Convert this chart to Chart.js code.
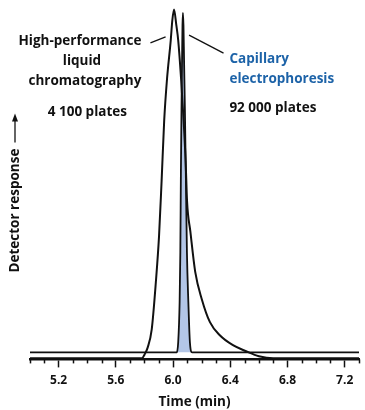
<!DOCTYPE html>
<html>
<head>
<meta charset="utf-8">
<script src="https://cdn.jsdelivr.net/npm/chart.js@4.4.0/dist/chart.umd.min.js"></script>
<style>
  html, body { margin: 0; padding: 0; background: #fff; }
  #wrap { width: 365px; height: 410px; position: relative; }
</style>
</head>
<body>
<div id="wrap"><canvas id="chart"></canvas></div>
<script>
// HPLC peak (broad, tailing) - time in min, response in % of full scale
const hplcTime = [5.0, 5.782, 5.801, 5.823, 5.851, 5.880, 5.902, 5.920, 5.938, 5.957, 5.984, 5.995, 6.007,
                  6.023, 6.036, 6.057, 6.074, 6.088, 6.098, 6.121, 6.155, 6.201, 6.258, 6.327, 6.419, 6.511, 6.600, 6.700, 7.3];
const hplcResponse = [0.3, 0.3, 1.4, 3.4, 8.5, 21.9, 34.7, 50.3, 67.3, 78.7, 90.1, 95.7, 98.7,
                      94.3, 90.1, 78.7, 67.3, 56.0, 44.6, 36.1, 24.7, 17.0, 10.5, 6.8, 4.0, 2.3, 0.9, 0.3, 0.3];

// capillary electrophoresis peak (narrow), drawn on its own baseline
const ceTime = [5.0, 6.026, 6.036, 6.046, 6.051, 6.055, 6.059, 6.063, 6.066, 6.069, 6.073, 6.077, 6.083,
                6.089, 6.097, 6.107, 6.118, 6.133, 7.3];
const ceResponse = [2.0, 2.0, 4.8, 16.2, 30.4, 53.1, 70.2, 84.4, 94.3, 97.8, 94.3, 84.4, 70.2,
                    53.1, 30.4, 16.2, 4.8, 2.0, 2.0];

const tickLabels = ['5.2', '5.6', '6.0', '6.4', '6.8', '7.2'];

const FONT = '"Open Sans", "DejaVu Sans", sans-serif';
const isMajor = v => tickLabels.includes(v.toFixed(1));

const annotate = {
  id: 'annotate',
  afterDatasetsDraw(chart) {
    const { ctx, scales: { x, y } } = chart;
    ctx.save();

    // short minor ticks under the axis
    ctx.strokeStyle = '#111';
    ctx.lineWidth = 1.5;
    x.ticks.forEach(t => {
      if (isMajor(t.value)) return;
      const px = Math.round(x.getPixelForValue(t.value)) + 0.5;
      ctx.beginPath();
      ctx.moveTo(px, y.bottom);
      ctx.lineTo(px, y.bottom + 4);
      ctx.stroke();
    });

    // leader lines
    ctx.lineWidth = 1.3;
    const leader = (x1, y1, x2, y2) => {
      ctx.beginPath();
      ctx.moveTo(x.getPixelForValue(x1), y.getPixelForValue(y1));
      ctx.lineTo(x.getPixelForValue(x2), y.getPixelForValue(y2));
      ctx.stroke();
    };
    leader(5.842, 89.3, 5.948, 91.0);
    leader(6.112, 91.5, 6.353, 86.4);

    // peak labels
    ctx.font = 'bold 13.5px ' + FONT;
    ctx.textBaseline = 'middle';
    const text = (s, tx, ty, align, color) => {
      ctx.fillStyle = color;
      ctx.textAlign = align;
      ctx.fillText(s, x.getPixelForValue(tx), y.getPixelForValue(ty));
    };
    text('High-performance', 5.349, 89.8, 'center', '#111');
    text('liquid', 5.363, 84.1, 'center', '#111');
    text('chromatography', 5.384, 78.4, 'center', '#111');
    text('4 100 plates', 5.401, 69.7, 'center', '#111');
    text('Capillary', 6.394, 84.7, 'left', '#1d63a8');
    text('electrophoresis', 6.394, 79.0, 'left', '#1d63a8');
    text('92 000 plates', 6.394, 71.0, 'left', '#111');

    // vertical axis caption with arrow
    const cx = 15;
    const cy = y.getPixelForValue(42);
    ctx.save();
    ctx.translate(cx, cy);
    ctx.rotate(-Math.PI / 2);
    ctx.fillStyle = '#111';
    ctx.textAlign = 'center';
    ctx.fillText('Detector response', 0, 0);
    const w = ctx.measureText('Detector response').width;
    ctx.beginPath();
    ctx.moveTo(w / 2 + 6, 0);
    ctx.lineTo(w / 2 + 30, 0);
    ctx.stroke();
    ctx.beginPath();
    ctx.moveTo(w / 2 + 35, 0);
    ctx.lineTo(w / 2 + 27, -3);
    ctx.lineTo(w / 2 + 27, 3);
    ctx.closePath();
    ctx.fill();
    ctx.restore();

    ctx.restore();
  }
};

new Chart(document.getElementById('chart'), {
  type: 'line',
  data: {
    datasets: [
      {
        label: 'High-performance liquid chromatography',
        data: hplcTime.map((t, i) => ({ x: t, y: hplcResponse[i] })),
        borderColor: '#111',
        borderWidth: 2,
        pointRadius: 0,
        fill: false,
        cubicInterpolationMode: 'monotone'
      },
      {
        label: 'Capillary electrophoresis',
        data: ceTime.map((t, i) => ({ x: t, y: ceResponse[i] })),
        borderColor: '#111',
        borderWidth: 1.8,
        backgroundColor: '#b3c6e7',
        pointRadius: 0,
        fill: { value: 2.0 },
        cubicInterpolationMode: 'monotone'
      }
    ]
  },
  options: {
    responsive: true,
    maintainAspectRatio: false,
    animation: false,
    devicePixelRatio: 1,
    layout: { padding: { left: 30, top: 5, right: 0, bottom: 0 } },
    plugins: {
      legend: { display: false },
      tooltip: { enabled: false }
    },
    scales: {
      x: {
        type: 'linear',
        min: 5.0,
        max: 7.3,
        border: { display: true, color: '#111', width: 2.5 },
        grid: {
          drawOnChartArea: false,
          drawTicks: true,
          tickLength: 8,
          tickWidth: 1.5,
          tickColor: ctx => (ctx.tick && isMajor(ctx.tick.value)) ? '#111' : 'rgba(0,0,0,0)'
        },
        ticks: {
          stepSize: 0.1,
          autoSkip: false,
          maxRotation: 0,
          padding: 6,
          color: '#111',
          font: { family: FONT, size: 12, weight: 'bold' },
          callback: v => isMajor(v) ? v.toFixed(1) : ''
        },
        title: {
          display: true,
          text: 'Time (min)',
          color: '#111',
          font: { family: FONT, size: 13.5, weight: 'bold' },
          padding: { top: 0, bottom: 0 }
        }
      },
      y: {
        display: false,
        min: 0,
        max: 100
      }
    }
  },
  plugins: [annotate]
});
</script>
</body>
</html>
